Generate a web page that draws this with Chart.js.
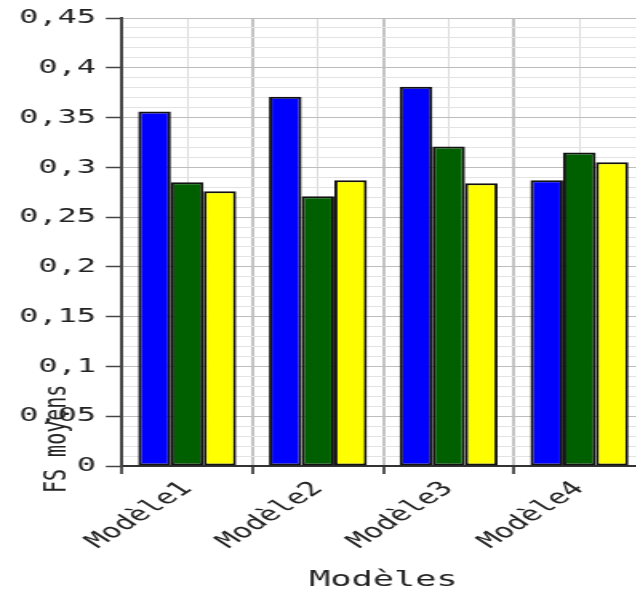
<!DOCTYPE html>
<html>
<head>
<meta charset="utf-8">
<script src="https://cdn.jsdelivr.net/npm/chart.js@4/dist/chart.umd.min.js"></script>
<style>
  html, body { margin: 0; padding: 0; background: #fff; overflow: hidden; }
  #wrap { transform: scaleX(1.6); transform-origin: 0 0; width: 408px; height: 593px; }
</style>
</head>
<body>
<div id="wrap"><canvas id="myChart" width="408" height="593"></canvas></div>
<script>
// données du graphique
const categories = ["Modèle1", "Modèle2", "Modèle3", "Modèle4"];
const serieBleue = [0.356, 0.371, 0.381, 0.287];
const serieVerte = [0.285, 0.271, 0.321, 0.315];
const serieJaune = [0.276, 0.287, 0.284, 0.305];
const yMin = 0, yMax = 0.45, yStep = 0.01;

const FONT = '"DejaVu Sans Mono", "Liberation Mono", monospace';

function isMajor(v) {
  return Math.round(v * 100) % 5 === 0;
}

// titre vertical "FS moyens", placé en bas à gauche comme sur l'original
const yTitlePlugin = {
  id: 'yTitle',
  afterDraw(chart) {
    const { ctx, chartArea } = chart;
    ctx.save();
    ctx.translate(chartArea.left - 40, chartArea.bottom + 27);
    ctx.rotate(-Math.PI / 2);
    ctx.font = '20px ' + FONT;
    ctx.fillStyle = '#222';
    ctx.textAlign = 'left';
    ctx.textBaseline = 'middle';
    ctx.fillText('FS moyens', 0, 0);
    ctx.restore();
  }
};

const ctx = document.getElementById('myChart').getContext('2d');
const myChart = new Chart(ctx, {
  type: 'bar',
  data: {
    labels: categories,
    datasets: [
      { label: 'Série 1', data: serieBleue, backgroundColor: '#0000ff' },
      { label: 'Série 2', data: serieVerte, backgroundColor: '#006000' },
      { label: 'Série 3', data: serieJaune, backgroundColor: '#ffff00' }
    ]
  },
  options: {
    responsive: false,
    animation: false,
    devicePixelRatio: 1,
    layout: { padding: { left: 6, top: 9, right: 5, bottom: 0 } },
    datasets: {
      bar: {
        categoryPercentage: 0.75,
        barPercentage: 1.0,
        borderColor: '#111',
        borderWidth: 2,
        borderSkipped: false
      }
    },
    plugins: {
      legend: { display: false },
      tooltip: { enabled: false }
    },
    scales: {
      x: {
        grid: {
          offset: true,
          color: '#c4c4c4',
          lineWidth: 2,
          tickColor: '#555',
          tickLength: 8,
          tickWidth: 2
        },
        border: { color: '#333', width: 2 },
        ticks: {
          minRotation: 45,
          maxRotation: 45,
          color: '#222',
          font: { family: FONT, size: 20 }
        },
        title: {
          display: true,
          text: 'Modèles',
          color: '#222',
          font: { family: FONT, size: 22 },
          padding: { top: 10, bottom: 0 }
        }
      },
      x2: {
        type: 'category',
        position: 'top',
        labels: categories,
        offset: true,
        grid: { offset: false, color: '#dcdcdc', lineWidth: 1, drawTicks: false },
        border: { display: false },
        ticks: { display: false }
      },
      y: {
        min: yMin,
        max: yMax,
        grid: {
          color: c => isMajor(c.tick.value) ? '#bdbdbd' : '#e3e3e3',
          tickColor: c => isMajor(c.tick.value) ? '#444' : 'rgba(0,0,0,0)',
          tickLength: 10,
          tickWidth: 1.5
        },
        border: { color: '#444', width: 2 },
        ticks: {
          stepSize: yStep,
          autoSkip: false,
          padding: 6,
          color: '#222',
          font: { family: FONT, size: 20 },
          callback: v => isMajor(v) ? String(Math.round(v * 100) / 100).replace('.', ',') : ''
        }
      }
    }
  },
  plugins: [yTitlePlugin]
});
</script>
</body>
</html>
